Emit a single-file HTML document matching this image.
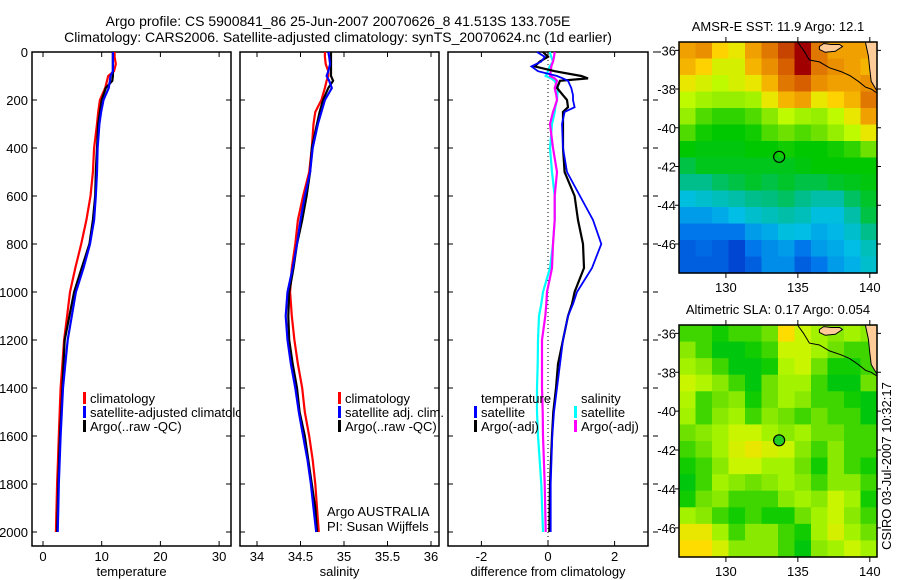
<!DOCTYPE html>
<html><head><meta charset="utf-8"><style>
body{margin:0;background:#fff}
svg{display:block;font-family:"Liberation Sans",Arial,sans-serif}
text{font-size:13px;fill:#000}
</style></head><body>
<svg id="fig" width="900" height="580" viewBox="0 0 900 580" xmlns="http://www.w3.org/2000/svg">
<rect width="900" height="580" fill="#fff"/>
<text x="338" y="26" text-anchor="middle" style="font-size:14px">Argo profile: CS 5900841_86 25-Jun-2007 20070626_8 41.513S 133.705E</text>
<text x="338" y="42" text-anchor="middle" style="font-size:14px">Climatology: CARS2006. Satellite-adjusted climatology: synTS_20070624.nc (1d earlier)</text>
<g id="g"></g>
<text transform="translate(891,466) rotate(-90)" text-anchor="middle">CSIRO 03-Jul-2007 10:32:17</text>
</svg>
<script>
// ---- data ----
const depths=[0,20,50,80,100,120,150,200,250,300,400,500,600,700,800,900,1000,1100,1200,1300,1400,1500,1600,1700,1800,1900,2000];
const tempClim=[12.2,12.2,12.4,12.1,11.1,10.9,10.6,9.7,9.4,9.2,8.7,8.5,8.1,7.4,6.5,5.5,4.6,4.1,3.6,3.3,3.0,2.85,2.7,2.55,2.4,2.3,2.2];
const tempSat=[11.9,11.9,11.9,11.9,11.5,11.4,11.2,10.3,9.9,9.6,9.3,9.2,9.0,8.7,8.0,6.9,5.6,4.9,4.2,3.8,3.4,3.2,3.0,2.85,2.7,2.6,2.5];
const tempArgo=[11.9,11.9,11.9,11.9,11.9,11.8,10.7,10.0,9.7,9.4,9.2,9.0,8.9,8.5,7.9,6.6,5.3,4.5,3.7,3.5,3.3,3.1,2.9,2.75,2.6,2.5,2.4];
const salClim=[34.78,34.78,34.79,34.82,34.82,34.8,34.78,34.74,34.67,34.65,34.63,34.6,34.53,34.47,34.44,34.4,34.38,34.4,34.43,34.47,34.52,34.55,34.6,34.64,34.67,34.69,34.71];
const salSat=[34.82,34.83,34.84,34.82,34.8,34.83,34.86,34.78,34.74,34.7,34.64,34.61,34.55,34.5,34.46,34.41,34.35,34.33,34.35,34.39,34.44,34.48,34.53,34.58,34.62,34.65,34.68];
const salArgo=[34.85,34.85,34.85,34.85,34.85,34.875,34.82,34.76,34.72,34.69,34.63,34.61,34.57,34.52,34.46,34.42,34.37,34.36,34.37,34.41,34.46,34.49,34.55,34.59,34.63,34.67,34.69];
const diffDepths=[0,20,40,60,80,100,110,120,150,180,200,230,250,300,400,500,600,700,800,900,1000,1050,1100,1200,1300,1400,1500,1600,1800,2000];
const dTempArgo=[-0.15,0,-0.25,-0.4,0.2,1.0,1.2,0.36,0.27,0.45,0.57,0.6,0.45,0.45,0.45,0.5,0.8,0.9,1.05,1.08,0.8,0.72,0.6,0.45,0.3,0.24,0.16,0.12,0.06,0.04];
const dTempSat=[-0.33,-0.1,-0.2,-0.5,-0.3,0.27,0.45,0.6,0.7,0.75,0.75,0.8,0.5,0.42,0.45,0.57,0.96,1.35,1.6,1.32,0.87,0.75,0.6,0.45,0.36,0.27,0.18,0.13,0.08,0.08];
const dSalSat=[0.05,0.1,0.15,0.05,0,-0.07,0.1,0.2,0.3,0.28,0.27,0.22,0.2,0.12,0.06,0.12,0.2,0.2,0.15,0.06,-0.15,-0.2,-0.27,-0.3,-0.31,-0.33,-0.33,-0.3,-0.2,-0.15];
const dSalArgo=[0.2,0.18,0.15,0.1,0.08,0.06,0.2,0.27,0.2,0.25,0.27,0.2,0.15,0.06,0.15,0.27,0.2,0.2,0.15,0.12,-0.03,-0.05,-0.08,-0.18,-0.18,-0.18,-0.16,-0.15,-0.1,-0.07];
const depthTicks=[0,200,400,600,800,1000,1200,1400,1600,1800,2000];
const tempTicks=[0,10,20,30];
const salTicks=[34,34.5,35,35.5,36];
const salTickLabels=["34","34.5","35","35.5","36"];
const diffTicks=[-2,0,2];
const lonTicks=[130,135,140];
const latTicks=[-36,-38,-40,-42,-44,-46];
const sstGrid=[
[.8,.82,.75,.72,.8,.85,.9,.95,.85,.8,.8,.8],
[.78,.75,.7,.7,.78,.82,.88,.95,.85,.82,.8,.78],
[.72,.7,.68,.7,.72,.78,.85,.88,.82,.8,.8,.82],
[.68,.66,.65,.65,.66,.72,.78,.8,.72,.75,.78,.85],
[.65,.6,.58,.58,.6,.64,.68,.66,.65,.68,.72,.8],
[.6,.56,.55,.55,.56,.6,.62,.6,.62,.65,.68,.72],
[.55,.54,.54,.54,.55,.55,.56,.55,.55,.56,.58,.62],
[.5,.53,.53,.53,.53,.53,.53,.54,.55,.55,.55,.55],
[.45,.45,.48,.5,.52,.5,.52,.5,.5,.52,.53,.54],
[.36,.38,.4,.42,.45,.46,.48,.45,.42,.42,.48,.52],
[.3,.3,.32,.35,.38,.4,.42,.4,.36,.36,.42,.5],
[.25,.25,.25,.25,.3,.32,.36,.35,.32,.34,.38,.45],
[.2,.22,.2,.15,.25,.28,.3,.25,.3,.32,.35,.4],
[.2,.2,.2,.15,.2,.28,.28,.2,.25,.3,.33,.38]];
const slaGrid=[
[.55,.55,.52,.55,.55,.58,.7,.65,.62,.6,.62,.6],
[.6,.55,.5,.5,.52,.55,.65,.65,.62,.58,.55,.55],
[.62,.6,.55,.5,.5,.52,.63,.65,.58,.52,.52,.55],
[.65,.63,.6,.55,.5,.58,.62,.62,.55,.5,.5,.58],
[.63,.55,.58,.6,.52,.58,.62,.6,.55,.55,.52,.5],
[.62,.55,.6,.62,.55,.6,.58,.55,.58,.55,.55,.5],
[.58,.6,.62,.65,.65,.62,.6,.62,.58,.58,.55,.55],
[.55,.58,.62,.66,.68,.66,.65,.6,.55,.6,.55,.55],
[.52,.55,.6,.65,.65,.62,.62,.58,.52,.6,.55,.52],
[.5,.55,.62,.6,.58,.6,.62,.6,.55,.6,.6,.55],
[.52,.58,.6,.55,.55,.55,.6,.62,.6,.65,.62,.52],
[.62,.6,.55,.52,.55,.52,.52,.58,.62,.65,.6,.55],
[.68,.68,.62,.55,.6,.6,.55,.52,.62,.66,.62,.58],
[.7,.7,.66,.6,.6,.6,.55,.5,.6,.62,.65,.62]];
const coastLon=[135.0,135.4,135.8,136.5,137.2,138.0,138.6,139.2,139.7,140.1,140.5];
const coastLat=[-35.6,-36.0,-36.5,-36.6,-36.9,-37.1,-37.3,-37.6,-37.9,-38.0,-38.2];
const landLon=[139.7,139.9,140.0,140.1,140.5,140.5];
const landLat=[-35.6,-36.3,-37.0,-37.6,-38.1,-35.6];
const islandLon=[136.5,136.8,137.3,137.9,138.1,137.6,136.9,136.5];
const islandLat=[-35.8,-35.65,-35.7,-35.7,-35.8,-36.05,-36.1,-35.95];
const argoLon=133.7, argoLat=-41.5;

// ---- helpers ----
const NS='http://www.w3.org/2000/svg';
const G=document.getElementById('g');
function mk(tag,attrs,parent){const e=document.createElementNS(NS,tag);for(const k in attrs)e.setAttribute(k,attrs[k]);(parent||G).appendChild(e);return e;}
const PT=52,PB=546;
const yD=d=>52+d*0.24;
function panel(x0,x1,xs,ticks,labels,name,xlabel,showY){
  const g=mk('g',{});
  
  
  ticks.forEach((t,i)=>{const x=xs(t);
    const tk=mk('path',{d:`M${x} ${PB}V${PB-5}M${x} ${PT}V${PT+5}`,stroke:'#000','stroke-width':1},g);
    
    
    const tl=mk('text',{x:x,y:561,'text-anchor':'middle'},g);tl.textContent=labels[i];
    
    });
  depthTicks.forEach(d=>{const y=yD(d);
    const tk=mk('path',{d:`M${x0} ${y}H${x0+5}M${x1} ${y}H${x1-5}`,stroke:'#000','stroke-width':1},g);
    
    
    if(showY){const tl=mk('text',{x:x0-4,y:y+5,'text-anchor':'end'},g);tl.textContent=d;
      
      }});
  const r=mk('rect',{x:x0,y:PT,width:x1-x0,height:PB-PT,fill:'none',stroke:'#000','stroke-width':1.5},g);
  
  
  const xl=mk('text',{x:(x0+x1)/2,y:576,'text-anchor':'middle'},g);xl.textContent=xlabel;
  
  
  return g;
}
function line(g,xs,vals,ds,col,name,w){
  const pts=vals.map((v,i)=>xs(v).toFixed(1)+','+yD(ds[i]).toFixed(1)).join(' ');
  const p=mk('polyline',{points:pts,fill:'none',stroke:col,'stroke-width':w||2.2},g);
  
  
}
function legend(g,x,y,items,clip){
  items.forEach((it,i)=>{const yy=y+i*14;
    if(it.c){const b=mk('rect',{x:x,y:yy-6,width:3,height:12,fill:it.c},g);
      
      }
    const t=mk('text',{x:x+7,y:yy+5},g);t.textContent=it.t;
    if(clip)t.setAttribute('clip-path','url(#'+clip+')');
    
    });
}
const defs=mk('defs',{});
const cp=mk('clipPath',{id:'c1'},defs);mk('rect',{x:0,y:0,width:240,height:580},cp);

// Panel 1 temperature
const xT=v=>43+v*5.87;
const p1=panel(32,231,xT,tempTicks,tempTicks.map(String),'temperature-panel','temperature',true);
line(p1,xT,tempClim,depths,'#f00','temperature-climatology-line');
line(p1,xT,tempArgo,depths,'#000','temperature-argo-line');
line(p1,xT,tempSat,depths,'#00f','temperature-satellite-line');
legend(p1,83,398,[{c:'#f00',t:'climatology'},{c:'#00f',t:'satellite-adjusted climatology'},{c:'#000',t:'Argo(..raw -QC)'}],'c1');

// Panel 2 salinity
const xS=v=>257+(v-34)*87;
const p2=panel(240,439,xS,salTicks,salTickLabels,'salinity-panel','salinity',false);
line(p2,xS,salClim,depths,'#f00','salinity-climatology-line');
line(p2,xS,salArgo,depths,'#000','salinity-argo-line');
line(p2,xS,salSat,depths,'#00f','salinity-satellite-line');
legend(p2,338,398,[{c:'#f00',t:'climatology'},{c:'#00f',t:'satellite adj. clim.'},{c:'#000',t:'Argo(..raw -QC)'}]);
[['Argo AUSTRALIA',516],['PI: Susan Wijffels',531]].forEach(a=>{const t=mk('text',{x:327,y:a[1]},p2);t.textContent=a[0];
  
  });

// Panel 3 differences
const xF=v=>548+v*33.3;
const p3=panel(448,648,xF,diffTicks,diffTicks.map(String),'difference-panel','difference from climatology',false);
depthTicks.forEach(d=>{const tk=mk('path',{d:`M653 ${yD(d)}H658`,stroke:'#000'},p3);
  
  });
const z=mk('line',{x1:xF(0),x2:xF(0),y1:PT,y2:PB,stroke:'#000','stroke-dasharray':'1,3'},p3);


line(p3,xF,dSalSat,diffDepths,'#0ff','salinity-satellite-diff-line');
line(p3,xF,dSalArgo,diffDepths,'#f0f','salinity-argo-diff-line');
line(p3,xF,dTempArgo,diffDepths,'#000','temperature-argo-diff-line');
line(p3,xF,dTempSat,diffDepths,'#00f','temperature-satellite-diff-line',1.8);
legend(p3,474,398,[{t:'temperature'},{c:'#00f',t:'satellite'},{c:'#000',t:'Argo(-adj)'}]);
legend(p3,574,398,[{t:'salinity'},{c:'#0ff',t:'satellite'},{c:'#f0f',t:'Argo(-adj)'}]);

// Maps
const cstops=[[0,[0,40,170]],[.15,[0,70,210]],[.25,[0,120,235]],[.35,[0,190,230]],[.45,[0,190,140]],[.55,[0,200,0]],[.62,[110,225,0]],[.68,[190,250,0]],[.74,[255,220,0]],[.8,[240,160,0]],[.88,[215,95,0]],[.95,[160,0,0]],[1,[130,0,0]]];
function cmap(v){v=Math.max(0,Math.min(1,v));for(let i=1;i<cstops.length;i++){if(v<=cstops[i][0]){const a=cstops[i-1],b=cstops[i],t=(v-a[0])/(b[0]-a[0]);
  return 'rgb('+a[1].map((c,k)=>Math.round(c+(b[1][k]-c)*t)).join(',')+')';}}return 'rgb(130,0,0)';}
function map(top,bot,grid,title,name,filled,cshift){
  const L=679,R=877,lon0=126.74,lon1=140.5,lat0=-35.57,lat1=-47.5;
  const xl=lo=>L+(lo-lon0)/(lon1-lon0)*(R-L);
  const yl=la=>top+(la-lat0)/(lat1-lat0)*(bot-top);
  const g=mk('g',{});
  
  
  const nr=grid.length,nc=grid[0].length,cw=(R-L)/nc,ch=(bot-top)/nr;
  grid.forEach((row,r)=>row.forEach((v,c)=>{const cell=mk('rect',{x:(L+c*cw).toFixed(2),y:(top+r*ch).toFixed(2),width:(cw+0.6).toFixed(2),height:(ch+0.6).toFixed(2),fill:cmap(v+cshift)},g);
    
    }));
  const poly=(lo,la)=>lo.map((v,i)=>xl(v).toFixed(1)+','+yl(la[i]).toFixed(1)).join(' ');
  const land=mk('polygon',{points:poly(landLon,landLat),fill:'#ffcc99'},g);
  
  
  const isl=mk('polygon',{points:poly(islandLon,islandLat),fill:'#ffcc99',stroke:'#000','stroke-width':1},g);
  
  
  const cst=mk('polyline',{points:poly(coastLon,coastLat),fill:'none',stroke:'#000','stroke-width':1},g);
  
  
  const cst2=mk('polyline',{points:poly(landLon.slice(0,5),landLat.slice(0,5)),fill:'none',stroke:'#000','stroke-width':1},g);
  
  
  const m=mk('circle',{cx:xl(argoLon),cy:yl(argoLat),r:5.5,fill:filled?'#22cc22':'none',stroke:'#000','stroke-width':1.2},g);
  
  
  const fr=mk('rect',{x:L,y:top,width:R-L,height:bot-top,fill:'none',stroke:'#000','stroke-width':1.5},g);
  
  
  lonTicks.forEach(lo=>{const x=xl(lo);
    const tk=mk('path',{d:`M${x} ${top}V${top-5}M${x} ${bot}V${bot+5}`,stroke:'#000'},g);
    
    
    const t=mk('text',{x:x,y:bot+19,'text-anchor':'middle'},g);t.textContent=lo;
    
    });
  latTicks.forEach(la=>{const y=yl(la);
    const tk=mk('path',{d:`M${L} ${y}H${L-4}M${R} ${y}H${R+4}`,stroke:'#000'},g);
    
    
    const t=mk('text',{x:L-3,y:y+5,'text-anchor':'end'},g);t.textContent=la;
    
    });
  const tt=mk('text',{x:778,y:top-11,'text-anchor':'middle'},g);tt.textContent=title;
  
  
}
map(42,273,sstGrid,'AMSR-E SST: 11.9 Argo: 12.1','sst-map',false,0);
map(325,557,slaGrid,'Altimetric SLA: 0.17 Argo: 0.054','sla-map',true,0.04);
</script>
</body></html>
